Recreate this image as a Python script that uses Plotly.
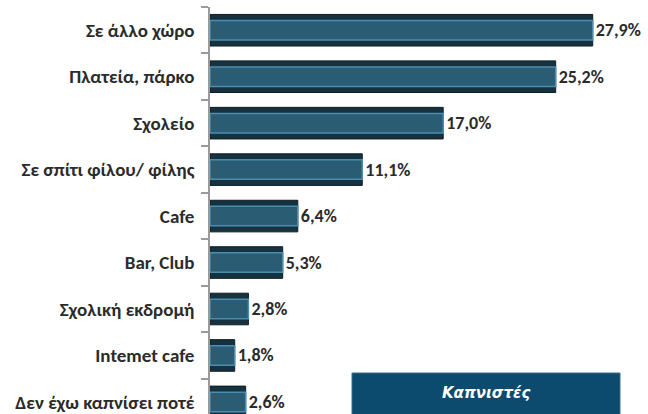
import plotly.graph_objects as go

categories = ["Σε άλλο χώρο", "Πλατεία, πάρκο", "Σχολείο", "Σε σπίτι φίλου/ φίλης",
              "Cafe", "Bar, Club", "Σχολική εκδρομή", "Intemet cafe", "Δεν έχω καπνίσει ποτέ"]
values = [27.9, 25.2, 17.0, 11.1, 6.4, 5.3, 2.8, 1.8, 2.6]
legend_label = "Καπνιστές"

FONT = "Carlito, 'Noto Sans', 'Open Sans', sans-serif"

fig = go.Figure()
# outer (dark frame) bar
fig.add_trace(go.Bar(
    x=values, y=categories, orientation="h", width=0.68,
    marker=dict(color="#17323f", line=dict(color="#0e1d24", width=1)),
    texttemplate="%{x:.1f}%", textposition="outside", cliponaxis=False,
    textfont=dict(family=FONT, size=18, color="#2b2b2b", weight="bold"),
    hoverinfo="skip", showlegend=False,
))
# inner bevel bar
fig.add_trace(go.Bar(
    x=values, y=categories, orientation="h", width=0.42,
    marker=dict(color="#2a5c74", line=dict(color="#4b8db0", width=1.5)),
    hoverinfo="skip", showlegend=False,
))

fig.update_layout(
    width=648, height=414,
    margin=dict(l=210, r=0, t=7, b=0),
    paper_bgcolor="white", plot_bgcolor="white",
    barmode="overlay", separators=",.",
    font=dict(family=FONT, size=18, color="#2b2b2b"),
    xaxis=dict(range=[0, 31.93], visible=False, fixedrange=True, automargin=False),
    yaxis=dict(
        type="category", range=[8.26, -0.5], automargin=False, fixedrange=True,
        showline=True, linecolor="#9a9a9a", linewidth=1.5,
        ticks="outside", tickson="boundaries", ticklen=7, tickcolor="#9a9a9a", tickwidth=1.5,
        ticklabelstandoff=10,
        tickfont=dict(family=FONT, size=19, color="#2b2b2b", weight="bold"),
        showgrid=False, zeroline=False,
    ),
    shapes=[dict(type="rect", xref="paper", yref="paper",
                 x0=(352 - 210) / 438, x1=(620 - 210) / 438,
                 y0=-0.1, y1=(414 - 373) / 407,
                 fillcolor="#0c4a6e", line=dict(color="#3c6f8c", width=1))],
    annotations=[dict(text=legend_label, xref="paper", yref="paper",
                      x=(486 - 210) / 438, y=(414 - 393) / 407,
                      showarrow=False, xanchor="center", yanchor="middle",
                      font=dict(family="'DejaVu Sans', sans-serif", size=15, color="white",
                                style="italic", weight="bold"))],
)

fig.write_html("out.html", config={"displayModeBar": False},
               post_script="document.body.style.margin='0';document.body.style.overflow='hidden';")
